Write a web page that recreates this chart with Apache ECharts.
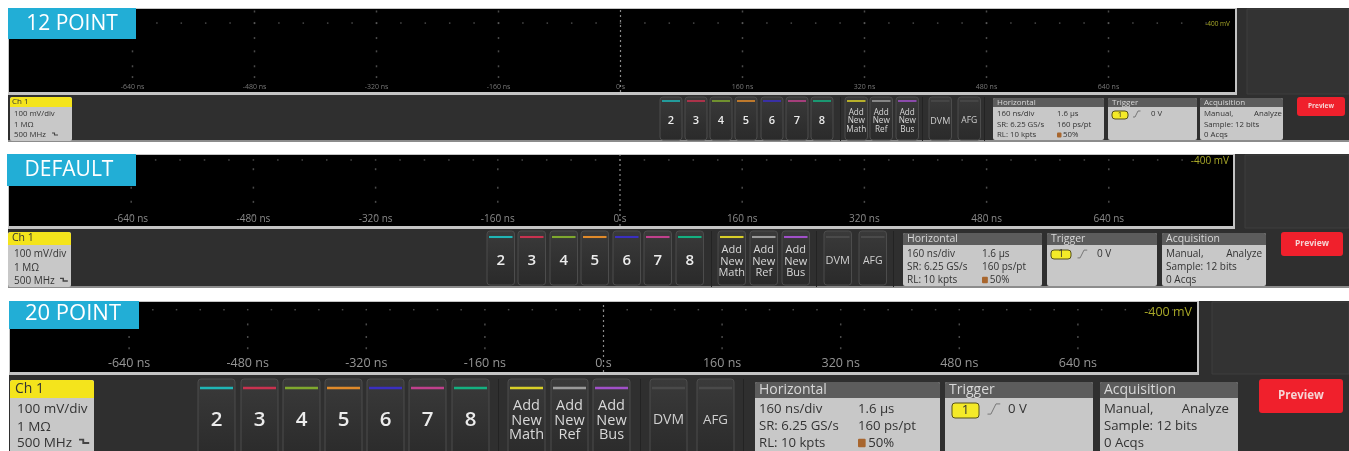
<!DOCTYPE html>
<html><head><meta charset="utf-8">
<style>html,body{margin:0;padding:0;background:#fff}#c{width:1349px;height:451px;filter:blur(.5px)}</style>
<script src="https://cdn.jsdelivr.net/npm/echarts@6/dist/echarts.min.js"></script>
</head><body><div id="c"></div>
<script>
// ---- values ----
const panelTitles = ['12 POINT', 'DEFAULT', '20 POINT'];
const majorTimes = [-800, -640, -480, -320, -160, 0, 160, 320, 480, 640, 800];
const timeLabels = ['', '-640 ns', '-480 ns', '-320 ns', '-160 ns', '0 s', '160 ns', '320 ns', '480 ns', '640 ns', ''];
const minorTimes = [-768,-736,-704,-672,-608,-576,-544,-512,-448,-416,-384,-352,-288,-256,-224,-192,-128,-96,-64,-32,32,64,96,128,192,224,256,288,352,384,416,448,512,544,576,608,672,704,736,768];
const topRowLevels = [83, 93, 89];
const columnLevels = [[97, 83, 65, 49, 31, 18], [80, 54, 34, 15], [68, 50, 34, 18]];
const voltageLabel = '-400 mV';
const channelHead = 'Ch 1';
const channelLines = ['100 mV/div', '1 MΩ', '500 MHz'];
const buttonNumbers = ['2', '3', '4', '5', '6', '7', '8'];
const buttonColors = ['#1fb5b5', '#c8324f', '#7fa82e', '#e08a2a', '#3a2fc0', '#c0408c', '#14b080'];
const addButtons = [['Add', 'New', 'Math'], ['Add', 'New', 'Ref'], ['Add', 'New', 'Bus']];
const addColors = ['#d8cf28', '#9a9a9a', '#a050c8'];
const toolButtons = ['DVM', 'AFG'];
const horizontalCol1 = ['160 ns/div', 'SR: 6.25 GS/s', 'RL: 10 kpts'];
const horizontalCol2 = ['1.6 µs', '160 ps/pt', '50%'];
const acquisitionLines = ['Sample: 12 bits', '0 Acqs'];

// ---- layout of the three screens ----
const L = [
 {top:9, bottom:92, end:141, left:8, right:1235, gl:10.5, gr:1230.5, badgeR:136, badgeB:39, titleX:72, titleY:24, tf:21, axis:7, axisC:'#777', mv:[1230,24,6.5],
  ch:{x:10,r:72,y:97,h:10,f:7.8,hf:8,rows:[114,125,135],tx:4,hx:2,ix:52},
  btnX:[660,685,710,735,761,786,811], btnW:22, addX:[845,870,896], toolX:[929,958], addW:22.5, btnY:97, btnB:140, lineY:101, numY:121, nf:11, af:8.2, addY:[113,121,130], tf2:9,
  div:[840,922,984], hor:[993,1104], trg:[1108,1197], acq:[1200,1283], aR:1, boxY:98, headB:107, hf:8, bf:7.8, rows:[114,125,135], col2:1057, pv:[1297,1345,97,116,6.5],
  pill:[1112,1128,111,119], zero:1151, sideX:1247, icon:1.0},
 {top:155, bottom:226, end:287, left:8, right:1233, gl:9, gr:1231, badgeR:136, badgeB:186, titleX:69, titleY:170, tf:21, axis:10, axisC:'#8a8a8a', mv:[1229,161,10],
  ch:{x:8,r:71,y:232,h:13,f:10,hf:10.5,rows:[254,268,281],tx:6,hx:4,ix:60},
  btnX:[487,518,550,581,613,644,676], btnW:27.5, addX:[718,750,782], toolX:[824,859], addW:27.5, btnY:231, btnB:285, lineY:237, numY:261, nf:15, af:11, addY:[250,262,273], tf2:11,
  div:[711,816,893], hor:[903,1042], trg:[1047,1157], acq:[1162,1266], aR:4, boxY:233, headB:245, hf:10.5, bf:10, rows:[254,267,280], col2:982, pv:[1281,1343,232,256,8.5],
  pill:[1051,1071,250,259], zero:1097, sideX:1245, icon:1.3},
 {top:302, bottom:372, end:451, left:9, right:1197, gl:10.5, gr:1196.5, badgeR:139, badgeB:329, titleX:73, titleY:314, tf:22, axis:12.5, axisC:'#969696', mv:[1192,312,12.5],
  ch:{x:10,r:94,y:380,h:18,f:13.5,hf:14,rows:[409,427,443],tx:7,hx:5,ix:79},
  btnX:[198,241,283,325,367,409,452], btnW:37, addX:[508,551,593], toolX:[650,697], addW:37, btnY:379, btnB:460, lineY:388, numY:420, nf:20.5, af:14.5, addY:[406,421,435], tf2:14,
  div:[498,640,743], hor:[755,940], trg:[945,1093], acq:[1100,1238], aR:9, boxY:382, headB:398, hf:14, bf:13.2, rows:[409,426,443], col2:858, pv:[1259,1343,379,413,11.5],
  pill:[952,979,403,418], zero:1008, sideX:1212, icon:1.7}
];
const FONT = '"Open Sans", sans-serif';
const g = [];
const rect = (x0, y0, x1, y1, fill, o = {}) => g.push({type:'rect', z:o.z ?? 1, silent:true,
  shape:{x:x0, y:y0, width:x1 - x0, height:y1 - y0, r:o.r || 0},
  style:{fill, stroke:o.stroke || null, lineWidth:o.lw || 0}});
const text = (x, y, t, size, fill, o = {}) => g.push({type:'text', z:o.z ?? 5, silent:true, x, y,
  style:{text:t, font:`${o.w || 400} ${size}px ${FONT}`, fill, textAlign:o.a || 'left', textVerticalAlign:'middle'}});
const path = (pts, stroke, lw) => g.push({type:'polyline', z:5, silent:true, shape:{points:pts}, style:{stroke, lineWidth:lw, fill:null}});

L.forEach((p, i) => {
  const btnFill = {type:'linear', x:0, y:0, x2:0, y2:1, colorStops:[{offset:0, color:'#3a3a3a'}, {offset:1, color:'#2a2a2a'}]};
  // dark strip, side panel and scope frame
  rect(p.left, p.top - 1, 1349, p.end, '#2f2f2f', {z:-3});
  rect(p.sideX, p.top, 1349, p.bottom + 2, '#333333', {z:-2, stroke:'#3e3e3e', lw:1});
  rect(p.left, p.top - 1, p.right + 2, p.bottom + 3, '#c4c4c4', {z:-2});
  rect(p.left + 1, p.top, p.right, p.bottom, '#000', {z:-1});
  if (i < 2) rect(p.left, p.end - 1, 1349, p.end + 1, '#8c8c8c', {z:-2});
  // title badge
  rect(p.left - (i === 1 ? 1 : 0), p.top - 1, p.badgeR, p.badgeB, '#22aed6', {z:4});
  text(p.titleX, p.titleY, panelTitles[i], p.tf, '#fff', {a:'center'});
  text(p.mv[0], p.mv[1], voltageLabel, p.mv[2], '#a8a828', {a:'right'});
  // channel card
  const c = p.ch;
  rect(c.x, c.y, c.r, p.end + 4 > 451 ? 455 : p.end, '#c8c8c8', {r:2});
  rect(c.x, c.y, c.r, c.y + c.h, '#f4e41c', {r:[3, 3, 0, 0]});
  text(c.x + c.hx, c.y + c.h / 2, channelHead, c.hf, '#333');
  channelLines.forEach((t, k) => text(c.x + c.tx, c.rows[k], t, c.f, '#333'));
  const ix = c.ix, iy = c.rows[2], s = p.icon;
  path([[ix, iy - 2 * s], [ix + 2.5 * s, iy - 2 * s], [ix + 2.5 * s, iy], [ix + 6 * s, iy]], '#444', 1.1 * s);
  // channel buttons
  const button = (x, w, color) => {
    rect(x, p.btnY, x + w, p.btnB, btnFill, {r:3, stroke:'#4c4c4c', lw:1});
    rect(x + 2, p.lineY - .8 * p.icon, x + w - 2, p.lineY + .8 * p.icon, color, {z:2});
  };
  buttonNumbers.forEach((t, k) => {
    button(p.btnX[k], p.btnW, buttonColors[k]);
    text(p.btnX[k] + p.btnW / 2, p.numY, t, p.nf, '#ececec', {a:'center', w:600});
  });
  addButtons.forEach((lines, k) => {
    button(p.addX[k], p.addW, addColors[k]);
    lines.forEach((t, m) => text(p.addX[k] + p.addW / 2, p.addY[m], t, p.af, '#d8d8d8', {a:'center'}));
  });
  toolButtons.forEach((t, k) => {
    button(p.toolX[k], p.addW, '#4a4a4a');
    text(p.toolX[k] + p.addW / 2, p.numY, t, p.tf2 * (k ? .95 : 1), '#cfcfcf', {a:'center'});
  });
  p.div.forEach(x => rect(x, p.btnY, x + 1, Math.min(p.end, 451), '#232323'));
  // readout cards
  const card = (box, title) => {
    rect(box[0], p.boxY, box[1], p.end + (i === 2 ? 4 : -1), '#c8c8c8', {r:2});
    rect(box[0], p.boxY, box[1], p.headB, '#5c5c5c', {r:[2, 2, 0, 0]});
    text(box[0] + 4, (p.boxY + p.headB) / 2, title, p.hf, '#d8d8d8');
  };
  card(p.hor, 'Horizontal');
  horizontalCol1.forEach((t, k) => text(p.hor[0] + 4, p.rows[k], t, p.bf, '#333'));
  horizontalCol2.forEach((t, k) => text(p.col2 + (k === 2 ? 6 * p.icon : 0), p.rows[k], t, p.bf, '#333'));
  rect(p.col2, p.rows[2] - 2.5 * p.icon, p.col2 + 4.5 * p.icon, p.rows[2] + 2.5 * p.icon, '#a8662e', {z:5, r:1});
  card(p.trg, 'Trigger');
  rect(p.pill[0], p.pill[2], p.pill[1], p.pill[3], '#f4ea28', {r:3, stroke:'#55501a', lw:1, z:4});
  text((p.pill[0] + p.pill[1]) / 2, (p.pill[2] + p.pill[3]) / 2, '1', p.bf, '#333', {a:'center'});
  const tx = p.pill[1] + 5 * p.icon, ty = p.rows[0];
  path([[tx, ty + 3 * p.icon], [tx + 2 * p.icon, ty + 3 * p.icon], [tx + 5 * p.icon, ty - 3 * p.icon], [tx + 7.5 * p.icon, ty - 3 * p.icon]], '#777', 1);
  text(p.zero, p.rows[0], '0 V', p.bf, '#333');
  card(p.acq, 'Acquisition');
  text(p.acq[0] + 4, p.rows[0], 'Manual,', p.bf, '#333');
  text(p.acq[1] - p.aR, p.rows[0], 'Analyze', p.bf, '#333', {a:'right'});
  acquisitionLines.forEach((t, k) => text(p.acq[0] + 4, p.rows[k + 1], t, p.bf, '#333'));
  // preview button
  rect(p.pv[0], p.pv[2], p.pv[1], p.pv[3], '#f0202c', {r:3});
  text((p.pv[0] + p.pv[1]) / 2, (p.pv[2] + p.pv[3]) / 2, 'Preview', p.pv[4], '#f6d4d4', {a:'center', w:700});
});

const grid = [], xAxis = [], yAxis = [], series = [];
L.forEach((p, i) => {
  grid.push({left:p.gl, width:p.gr - p.gl, top:p.top, height:p.bottom - p.top, containLabel:false});
  xAxis.push({gridIndex:i, type:'value', min:-800, max:800, interval:160, position:'bottom',
    axisLine:{show:false}, axisTick:{show:false}, splitLine:{show:false},
    axisLabel:{inside:true, margin:2, fontSize:p.axis, fontFamily:FONT, color:p.axisC, showMinLabel:false, showMaxLabel:false,
      formatter:v => timeLabels[majorTimes.indexOf(v)] || ''}});
  yAxis.push({gridIndex:i, type:'value', min:0, max:100, show:false});
  const dot = (data, size, color) => series.push({type:'scatter', xAxisIndex:i, yAxisIndex:i, silent:true, symbol:'rect', symbolSize:size,
    data, itemStyle:{color}, animation:false});
  dot(minorTimes.concat(majorTimes.slice(1, 10)).map(t => [t, topRowLevels[i]]), [1.5, 1.5], '#5a5a5a');
  const cols = [];
  majorTimes.slice(1, 10).forEach(t => { if (t !== 0) columnLevels[i].forEach(l => cols.push([t, l])); });
  dot(cols, [1.5, 2], '#5c5c5c');
  series.push({type:'line', xAxisIndex:i, yAxisIndex:i, silent:true, symbol:'none', animation:false, data:[[0, 0], [0, 100]],
    lineStyle:{color:'#8a8a8a', width:1.2, type:[2, 3]}});
});

const chart = echarts.init(document.getElementById('c'), null, {renderer:'canvas'});
chart.setOption({animation:false, backgroundColor:'#fff', tooltip:{show:false}, grid, xAxis, yAxis, series, graphic:{elements:g}});
</script></body></html>
